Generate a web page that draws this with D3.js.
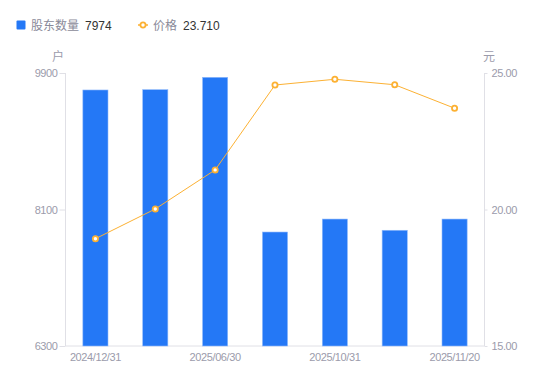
<!DOCTYPE html>
<html>
<head>
<meta charset="utf-8">
<script src="https://cdn.jsdelivr.net/npm/d3@7"></script>
<style>
  html, body { margin: 0; padding: 0; background: #fff; }
  svg text { font-family: "Liberation Sans", "Noto Sans CJK SC", sans-serif; }
</style>
</head>
<body>
<svg id="chart" width="550" height="381"></svg>
<script>
// data
const dates = ["2024/12/31", "2025/03/31", "2025/06/30", "2025/09/30", "2025/10/31", "2025/11/10", "2025/11/20"];
const holders = [9676, 9680, 9843, 7803, 7974, 7826, 7974];
const prices = [18.93, 20.02, 21.45, 24.56, 24.77, 24.57, 23.71];
const leftTicks = [6300, 8100, 9900];
const rightTicks = [15, 20, 25];

const blue = "#2478f6";
const orange = "#fcb133";
const grey = "#9b9bab";
const axisColor = "#e0e0e6";

const svg = d3.select("#chart");
const m = { left: 65.5, right: 484.5, top: 73, bottom: 346 };

const x = d3.scaleBand()
  .domain(dates)
  .range([m.left, m.right])
  .paddingInner(0.58)
  .paddingOuter(0.29);
const yL = d3.scaleLinear().domain([6300, 9900]).range([m.bottom, m.top]);
const yR = d3.scaleLinear().domain([15, 25]).range([m.bottom, m.top]);

// axes
const axisL = svg.append("g")
  .attr("transform", `translate(${m.left},0)`)
  .call(d3.axisLeft(yL).tickValues(leftTicks).tickSize(6).tickPadding(2).tickFormat(d3.format("d")));
const axisR = svg.append("g")
  .attr("transform", `translate(${m.right},0)`)
  .call(d3.axisRight(yR).tickValues(rightTicks).tickSize(3).tickPadding(4).tickFormat(d3.format(".2f")));
const axisB = svg.append("g")
  .attr("transform", `translate(0,${m.bottom})`)
  .call(d3.axisBottom(x).tickSize(0).tickPadding(6)
    .tickFormat((d, i) => (i % 2 === 0 ? d : "")));

[axisL, axisR, axisB].forEach((g) => {
  g.select(".domain").attr("stroke", axisColor);
  g.selectAll(".tick line").attr("stroke", axisColor);
  g.selectAll("text")
    .attr("fill", grey)
    .style("font-size", "11px")
    .style("letter-spacing", "-0.4px");
});
axisL.select(".domain").attr("d", `M0,${m.top}V${m.bottom}`);
axisR.select(".domain").attr("d", `M0,${m.top}V${m.bottom}`);
axisB.select(".domain").attr("d", `M${m.left},0H${m.right}`);
axisB.selectAll("text").attr("dy", "0.85em");

// unit labels
svg.append("text").attr("x", 58).attr("y", 61).attr("text-anchor", "middle")
  .attr("fill", grey).style("font-size", "12px").text("户");
svg.append("text").attr("x", 489).attr("y", 61).attr("text-anchor", "middle")
  .attr("fill", grey).style("font-size", "12px").text("元");

// bars
svg.append("g")
  .selectAll("rect")
  .data(holders)
  .join("rect")
  .attr("x", (d, i) => x(dates[i]))
  .attr("y", (d) => yL(d))
  .attr("width", x.bandwidth())
  .attr("height", (d) => yL(6300) - yL(d))
  .attr("fill", blue)
  .attr("stroke", "#8fb9fb")
  .attr("stroke-width", 0.6);

// price line
const line = d3.line()
  .x((d, i) => x(dates[i]) + x.bandwidth() / 2)
  .y((d) => yR(d));
svg.append("path")
  .datum(prices)
  .attr("d", line)
  .attr("fill", "none")
  .attr("stroke", orange)
  .attr("stroke-width", 1);
svg.append("g")
  .selectAll("circle")
  .data(prices)
  .join("circle")
  .attr("cx", (d, i) => x(dates[i]) + x.bandwidth() / 2)
  .attr("cy", (d) => yR(d))
  .attr("r", 2.6)
  .attr("fill", "#fff")
  .attr("stroke", orange)
  .attr("stroke-width", 1.8);

// legend
const lg = svg.append("g");
lg.append("rect").attr("x", 16.5).attr("y", 20.5).attr("width", 9).attr("height", 9)
  .attr("rx", 1).attr("fill", blue);
lg.append("text").attr("x", 31).attr("y", 29.5).attr("fill", "#8a8a99")
  .style("font-size", "12px").text("股东数量");
lg.append("text").attr("x", 85).attr("y", 29.5).attr("fill", "#333")
  .style("font-size", "12px").text(d3.format("d")(holders[holders.length - 1]));
lg.append("line").attr("x1", 138).attr("x2", 148).attr("y1", 25).attr("y2", 25)
  .attr("stroke", orange).attr("stroke-width", 1.5);
lg.append("circle").attr("cx", 143).attr("cy", 25).attr("r", 2.6)
  .attr("fill", "#fff").attr("stroke", orange).attr("stroke-width", 1.8);
lg.append("text").attr("x", 153).attr("y", 29.5).attr("fill", "#8a8a99")
  .style("font-size", "12px").text("价格");
lg.append("text").attr("x", 183).attr("y", 29.5).attr("fill", "#333")
  .style("font-size", "12px").text(d3.format(".3f")(prices[prices.length - 1]));
</script>
</body>
</html>
